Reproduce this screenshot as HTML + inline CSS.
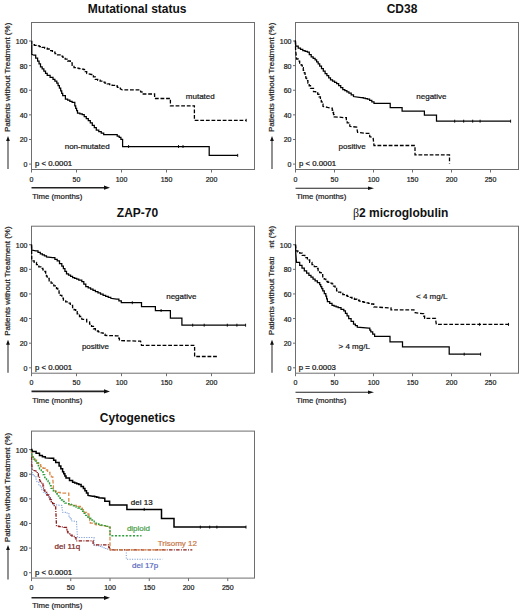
<!DOCTYPE html><html><head><meta charset="utf-8"><title>Figure</title><style>html,body{margin:0;padding:0;background:#fff;}svg{display:block;}text{font-family:"Liberation Sans", sans-serif;}</style></head><body>
<svg width="520" height="611" viewBox="0 0 520 611">
<rect width="520" height="611" fill="#fff"/>
<rect x="31.5" y="22.5" width="223" height="147" fill="none" stroke="#6e6e6e" stroke-width="1"/>
<line x1="29" y1="164.1" x2="31.5" y2="164.1" stroke="#6e6e6e" stroke-width="1"/>
<text x="27.5" y="167.1" font-size="7.0" text-anchor="end" fill="#222" font-weight="normal" stroke="#222" stroke-width="0.22" >0</text>
<line x1="29" y1="139.48" x2="31.5" y2="139.48" stroke="#6e6e6e" stroke-width="1"/>
<text x="27.5" y="142.48" font-size="7.0" text-anchor="end" fill="#222" font-weight="normal" stroke="#222" stroke-width="0.22" >20</text>
<line x1="29" y1="114.86" x2="31.5" y2="114.86" stroke="#6e6e6e" stroke-width="1"/>
<text x="27.5" y="117.86" font-size="7.0" text-anchor="end" fill="#222" font-weight="normal" stroke="#222" stroke-width="0.22" >40</text>
<line x1="29" y1="90.24" x2="31.5" y2="90.24" stroke="#6e6e6e" stroke-width="1"/>
<text x="27.5" y="93.24" font-size="7.0" text-anchor="end" fill="#222" font-weight="normal" stroke="#222" stroke-width="0.22" >60</text>
<line x1="29" y1="65.62" x2="31.5" y2="65.62" stroke="#6e6e6e" stroke-width="1"/>
<text x="27.5" y="68.62" font-size="7.0" text-anchor="end" fill="#222" font-weight="normal" stroke="#222" stroke-width="0.22" >80</text>
<line x1="29" y1="41" x2="31.5" y2="41" stroke="#6e6e6e" stroke-width="1"/>
<text x="27.5" y="44" font-size="7.0" text-anchor="end" fill="#222" font-weight="normal" stroke="#222" stroke-width="0.22" >100</text>
<line x1="31.5" y1="169.5" x2="31.5" y2="172.5" stroke="#6e6e6e" stroke-width="1"/>
<text x="31.5" y="181.5" font-size="7.0" text-anchor="middle" fill="#222" font-weight="normal" stroke="#222" stroke-width="0.22" >0</text>
<line x1="76.5" y1="169.5" x2="76.5" y2="172.5" stroke="#6e6e6e" stroke-width="1"/>
<text x="76.5" y="181.5" font-size="7.0" text-anchor="middle" fill="#222" font-weight="normal" stroke="#222" stroke-width="0.22" >50</text>
<line x1="121.5" y1="169.5" x2="121.5" y2="172.5" stroke="#6e6e6e" stroke-width="1"/>
<text x="121.5" y="181.5" font-size="7.0" text-anchor="middle" fill="#222" font-weight="normal" stroke="#222" stroke-width="0.22" >100</text>
<line x1="166.5" y1="169.5" x2="166.5" y2="172.5" stroke="#6e6e6e" stroke-width="1"/>
<text x="166.5" y="181.5" font-size="7.0" text-anchor="middle" fill="#222" font-weight="normal" stroke="#222" stroke-width="0.22" >150</text>
<line x1="211.5" y1="169.5" x2="211.5" y2="172.5" stroke="#6e6e6e" stroke-width="1"/>
<text x="211.5" y="181.5" font-size="7.0" text-anchor="middle" fill="#222" font-weight="normal" stroke="#222" stroke-width="0.22" >200</text>
<text x="137.2" y="13" font-size="12.0" text-anchor="middle" fill="#111" font-weight="bold" >Mutational status</text>
<text x="0" y="0" font-size="8.0" text-anchor="middle" fill="#222" stroke="#222" stroke-width="0.22" transform="translate(10.3,77.4) rotate(-90)">Patients without Treatment (%)</text>
<line x1="8" y1="169" x2="8" y2="140" stroke="#555" stroke-width="1.3"/>
<path d="M6.1,141 L8,136 L9.9,141 Z" fill="#111"/>
<line x1="31.5" y1="187.7" x2="105" y2="187.7" stroke="#222" stroke-width="1.6"/>
<path d="M104,185.6 L110,187.7 L104,189.8 Z" fill="#111"/>
<text x="32.3" y="199" font-size="7.8" text-anchor="start" fill="#222" font-weight="normal" stroke="#222" stroke-width="0.22" >Time (months)</text>
<text x="35" y="166.2" font-size="7.8" text-anchor="start" fill="#111" font-weight="normal" stroke="#111" stroke-width="0.22" >p &lt; 0.0001</text>
<polyline points="31.8,40.8 31.8,44.7 34.37,44.7 34.37,45.33 36.93,45.33 36.93,45.97 39.5,45.97 39.5,46.6 42.07,46.6 42.07,47.4 44.63,47.4 44.63,48.2 47.2,48.2 47.2,49 49.8,49 49.8,50.57 52.4,50.57 52.4,52.13 55,52.13 55,53.7 57.53,53.7 57.53,54.87 60.07,54.87 60.07,56.03 62.6,56.03 62.6,57.2 65.17,57.2 65.17,59.1 67.73,59.1 67.73,61 70.3,61 70.3,62.9 72.15,62.9 72.15,65.3 74,65.3 74,67.7 76.45,67.7 76.45,68.17 78.9,68.17 78.9,68.65 81.35,68.65 81.35,69.12 83.8,69.12 83.8,69.6 85.25,69.6 85.25,71.55 86.7,71.55 86.7,73.5 91.5,74.5 93.4,74.5 93.4,76.9 95.3,76.9 95.3,79.3 97.7,79.3 97.7,80.25 100.1,80.25 100.1,81.2 102.5,81.2 102.5,82.15 104.9,82.15 104.9,83.1 107.3,83.1 107.3,83.82 109.7,83.82 109.7,84.55 112.1,84.55 112.1,85.28 114.5,85.28 114.5,86 117.4,86 117.4,87.45 120.3,87.45 120.3,88.9 122.2,89.8 139.2,89.8 140.6,89.8 140.6,91.9 142,91.9 142,94 154.6,94 154.6,98.5 170.4,98.5 170.4,105.8 194.4,105.8 194.4,120.3 246.2,120.3" fill="none" stroke="#000" stroke-width="1.3" stroke-dasharray="3.8 1.8" stroke-linejoin="miter" stroke-linecap="butt" />
<polyline points="31.8,44.7 31.8,54.3 33.8,55.2 35.7,55.2 35.7,58.1 37.6,58.1 37.6,61 39.05,61 39.05,63.9 40.5,63.9 40.5,66.8 42.17,66.8 42.17,68.95 43.85,68.95 43.85,71.1 45.53,71.1 45.53,73.25 47.2,73.25 47.2,75.4 50.1,75.4 50.1,77.35 53,77.35 53,79.3 54.9,79.3 54.9,81.2 56.8,81.2 56.8,83.1 58.1,83.1 58.1,85.67 59.4,85.67 59.4,88.23 60.7,88.23 60.7,90.8 61.7,90.8 61.7,93.25 62.7,93.25 62.7,95.7 65.4,95.7 65.4,99 67.63,99 67.63,100.13 69.87,100.13 69.87,101.27 72.1,101.27 72.1,102.4 74.8,102.4 74.8,105.8 75.7,105.8 75.7,108.27 76.6,108.27 76.6,110.73 77.5,110.73 77.5,113.2 79.85,113.2 79.85,113.85 82.2,113.85 82.2,114.5 84.23,114.5 84.23,116.53 86.27,116.53 86.27,118.57 88.3,118.57 88.3,120.6 90.3,120.6 90.3,122.95 92.3,122.95 92.3,125.3 94.3,125.3 94.3,127.65 96.3,127.65 96.3,130 98.77,130 98.77,131.57 101.23,131.57 101.23,133.13 103.7,133.13 103.7,134.7 115.2,134.7 117.2,134.7 117.2,136.05 119.2,136.05 119.2,137.4 120.9,137.4 120.9,139.4 122.6,139.4 122.6,141.4 122.6,146.5 209.2,146.5 209.2,155.4 237.7,155.4" fill="none" stroke="#000" stroke-width="1.25" stroke-linejoin="miter" stroke-linecap="butt" />
<line x1="128.6" y1="145" x2="128.6" y2="148" stroke="#000" stroke-width="0.9"/>
<line x1="178.5" y1="145" x2="178.5" y2="148" stroke="#000" stroke-width="0.9"/>
<line x1="183" y1="145" x2="183" y2="148" stroke="#000" stroke-width="0.9"/>
<line x1="237.7" y1="153.9" x2="237.7" y2="156.9" stroke="#000" stroke-width="0.9"/>
<line x1="246.2" y1="118.8" x2="246.2" y2="121.8" stroke="#000" stroke-width="0.9"/>
<text x="185.8" y="98.9" font-size="8.0" text-anchor="start" fill="#1a1a1a" font-weight="normal" stroke="#1a1a1a" stroke-width="0.22" >mutated</text>
<text x="64.7" y="148.6" font-size="8.0" text-anchor="start" fill="#1a1a1a" font-weight="normal" stroke="#1a1a1a" stroke-width="0.22" >non-mutated</text>
<rect x="295.5" y="22.5" width="223" height="147" fill="none" stroke="#6e6e6e" stroke-width="1"/>
<line x1="293" y1="164.1" x2="295.5" y2="164.1" stroke="#6e6e6e" stroke-width="1"/>
<text x="291.5" y="167.1" font-size="7.0" text-anchor="end" fill="#222" font-weight="normal" stroke="#222" stroke-width="0.22" >0</text>
<line x1="293" y1="139.48" x2="295.5" y2="139.48" stroke="#6e6e6e" stroke-width="1"/>
<text x="291.5" y="142.48" font-size="7.0" text-anchor="end" fill="#222" font-weight="normal" stroke="#222" stroke-width="0.22" >20</text>
<line x1="293" y1="114.86" x2="295.5" y2="114.86" stroke="#6e6e6e" stroke-width="1"/>
<text x="291.5" y="117.86" font-size="7.0" text-anchor="end" fill="#222" font-weight="normal" stroke="#222" stroke-width="0.22" >40</text>
<line x1="293" y1="90.24" x2="295.5" y2="90.24" stroke="#6e6e6e" stroke-width="1"/>
<text x="291.5" y="93.24" font-size="7.0" text-anchor="end" fill="#222" font-weight="normal" stroke="#222" stroke-width="0.22" >60</text>
<line x1="293" y1="65.62" x2="295.5" y2="65.62" stroke="#6e6e6e" stroke-width="1"/>
<text x="291.5" y="68.62" font-size="7.0" text-anchor="end" fill="#222" font-weight="normal" stroke="#222" stroke-width="0.22" >80</text>
<line x1="293" y1="41" x2="295.5" y2="41" stroke="#6e6e6e" stroke-width="1"/>
<text x="291.5" y="44" font-size="7.0" text-anchor="end" fill="#222" font-weight="normal" stroke="#222" stroke-width="0.22" >100</text>
<line x1="295.5" y1="169.5" x2="295.5" y2="172.5" stroke="#6e6e6e" stroke-width="1"/>
<text x="295.5" y="181.5" font-size="7.0" text-anchor="middle" fill="#222" font-weight="normal" stroke="#222" stroke-width="0.22" >0</text>
<line x1="334.5" y1="169.5" x2="334.5" y2="172.5" stroke="#6e6e6e" stroke-width="1"/>
<text x="334.5" y="181.5" font-size="7.0" text-anchor="middle" fill="#222" font-weight="normal" stroke="#222" stroke-width="0.22" >50</text>
<line x1="373.5" y1="169.5" x2="373.5" y2="172.5" stroke="#6e6e6e" stroke-width="1"/>
<text x="373.5" y="181.5" font-size="7.0" text-anchor="middle" fill="#222" font-weight="normal" stroke="#222" stroke-width="0.22" >100</text>
<line x1="412.5" y1="169.5" x2="412.5" y2="172.5" stroke="#6e6e6e" stroke-width="1"/>
<text x="412.5" y="181.5" font-size="7.0" text-anchor="middle" fill="#222" font-weight="normal" stroke="#222" stroke-width="0.22" >150</text>
<line x1="451.5" y1="169.5" x2="451.5" y2="172.5" stroke="#6e6e6e" stroke-width="1"/>
<text x="451.5" y="181.5" font-size="7.0" text-anchor="middle" fill="#222" font-weight="normal" stroke="#222" stroke-width="0.22" >200</text>
<line x1="490.5" y1="169.5" x2="490.5" y2="172.5" stroke="#6e6e6e" stroke-width="1"/>
<text x="490.5" y="181.5" font-size="7.0" text-anchor="middle" fill="#222" font-weight="normal" stroke="#222" stroke-width="0.22" >250</text>
<text x="402" y="13" font-size="12.0" text-anchor="middle" fill="#111" font-weight="bold" >CD38</text>
<text x="0" y="0" font-size="8.0" text-anchor="middle" fill="#222" stroke="#222" stroke-width="0.22" transform="translate(274.3,77.4) rotate(-90)">Patients without Treatment (%)</text>
<line x1="272" y1="169" x2="272" y2="140" stroke="#555" stroke-width="1.3"/>
<path d="M270.1,141 L272,136 L273.9,141 Z" fill="#111"/>
<line x1="295.5" y1="188.3" x2="369" y2="188.3" stroke="#222" stroke-width="1.1"/>
<path d="M368,186.6 L374,188.3 L368,190 Z" fill="#111"/>
<text x="296.3" y="199" font-size="7.8" text-anchor="start" fill="#222" font-weight="normal" stroke="#222" stroke-width="0.22" >Time (months)</text>
<text x="299" y="166.2" font-size="7.8" text-anchor="start" fill="#111" font-weight="normal" stroke="#111" stroke-width="0.22" >p &lt; 0.0001</text>
<polyline points="295.4,40.6 295.8,46 298.2,46 298.2,48 300.5,48 300.5,49.3 302.8,49.3 302.8,50.6 305.1,50.6 305.1,51.4 307.4,51.4 307.4,52.2 309.3,52.2 309.3,54.5 311.2,54.5 311.2,56.8 313.15,56.8 313.15,58.3 315.1,58.3 315.1,59.8 316.63,59.8 316.63,61.87 318.17,61.87 318.17,63.93 319.7,63.93 319.7,66 321.5,66 321.5,68.57 323.3,68.57 323.3,71.13 325.1,71.13 325.1,73.7 326.9,73.7 326.9,75.73 328.7,75.73 328.7,77.77 330.5,77.77 330.5,79.8 332.53,79.8 332.53,81.1 334.57,81.1 334.57,82.4 336.6,82.4 336.6,83.7 338.67,83.7 338.67,85.63 340.73,85.63 340.73,87.57 342.8,87.57 342.8,89.5 344.83,89.5 344.83,90.67 346.87,90.67 346.87,91.83 348.9,91.83 348.9,93 351.2,93 351.2,94.75 353.5,94.75 353.5,96.5 361.2,97.5 363.27,97.5 363.27,98 365.33,98 365.33,98.5 367.4,98.5 367.4,99 369.6,99 369.6,100.47 371.8,100.47 371.8,101.93 374,101.93 374,103.4 390.2,103.4 390.2,107.7 402.1,107.7 402.1,111 424.4,111 424.4,115 436.5,115 436.5,121.2 510.6,121.2" fill="none" stroke="#000" stroke-width="1.25" stroke-linejoin="miter" stroke-linecap="butt" />
<polyline points="295.4,40.6 295.6,49.8 296.6,59 298.13,59 298.13,61.07 299.67,61.07 299.67,63.13 301.2,63.13 301.2,65.2 302.23,65.2 302.23,67.77 303.27,67.77 303.27,70.33 304.3,70.33 304.3,72.9 305.07,72.9 305.07,75.47 305.83,75.47 305.83,78.03 306.6,78.03 306.6,80.6 307.9,80.6 307.9,83.17 309.2,83.17 309.2,85.73 310.5,85.73 310.5,88.3 313.5,88.3 313.5,91.7 315.65,91.7 315.65,93 317.8,93 317.8,94.3 319.1,94.3 319.1,96.9 320.4,96.9 320.4,99.5 321.27,99.5 321.27,101.8 322.13,101.8 322.13,104.1 323,104.1 323,106.4 327.3,107.3 331.6,108.2 332.25,108.2 332.25,110.35 332.9,110.35 332.9,112.5 333.55,112.5 333.55,114.65 334.2,114.65 334.2,116.8 345.5,117.7 346.35,117.7 346.35,120.3 347.2,120.3 347.2,122.9 349.8,122.9 349.8,126.3 356.7,127.2 357.6,132.4 366.2,133.3 369.7,133.3 369.7,136.7 373.1,137.6 374,145.5 415,145.5 415,154.9 449.5,154.9 449.5,163.5" fill="none" stroke="#000" stroke-width="1.3" stroke-dasharray="3.8 1.8" stroke-linejoin="miter" stroke-linecap="butt" />
<line x1="454.7" y1="119.7" x2="454.7" y2="122.7" stroke="#000" stroke-width="0.9"/>
<line x1="463.7" y1="119.7" x2="463.7" y2="122.7" stroke="#000" stroke-width="0.9"/>
<line x1="472.7" y1="119.7" x2="472.7" y2="122.7" stroke="#000" stroke-width="0.9"/>
<line x1="480.1" y1="119.7" x2="480.1" y2="122.7" stroke="#000" stroke-width="0.9"/>
<line x1="510.6" y1="119.7" x2="510.6" y2="122.7" stroke="#000" stroke-width="0.9"/>
<text x="416.3" y="98.8" font-size="8.0" text-anchor="start" fill="#1a1a1a" font-weight="normal" stroke="#1a1a1a" stroke-width="0.22" >negative</text>
<text x="338.5" y="148.8" font-size="8.0" text-anchor="start" fill="#1a1a1a" font-weight="normal" stroke="#1a1a1a" stroke-width="0.22" >positive</text>
<rect x="31.5" y="226.2" width="223" height="147" fill="none" stroke="#6e6e6e" stroke-width="1"/>
<line x1="29" y1="367.8" x2="31.5" y2="367.8" stroke="#6e6e6e" stroke-width="1"/>
<text x="27.5" y="370.8" font-size="7.0" text-anchor="end" fill="#222" font-weight="normal" stroke="#222" stroke-width="0.22" >0</text>
<line x1="29" y1="343.18" x2="31.5" y2="343.18" stroke="#6e6e6e" stroke-width="1"/>
<text x="27.5" y="346.18" font-size="7.0" text-anchor="end" fill="#222" font-weight="normal" stroke="#222" stroke-width="0.22" >20</text>
<line x1="29" y1="318.56" x2="31.5" y2="318.56" stroke="#6e6e6e" stroke-width="1"/>
<text x="27.5" y="321.56" font-size="7.0" text-anchor="end" fill="#222" font-weight="normal" stroke="#222" stroke-width="0.22" >40</text>
<line x1="29" y1="293.94" x2="31.5" y2="293.94" stroke="#6e6e6e" stroke-width="1"/>
<text x="27.5" y="296.94" font-size="7.0" text-anchor="end" fill="#222" font-weight="normal" stroke="#222" stroke-width="0.22" >60</text>
<line x1="29" y1="269.32" x2="31.5" y2="269.32" stroke="#6e6e6e" stroke-width="1"/>
<text x="27.5" y="272.32" font-size="7.0" text-anchor="end" fill="#222" font-weight="normal" stroke="#222" stroke-width="0.22" >80</text>
<line x1="29" y1="244.7" x2="31.5" y2="244.7" stroke="#6e6e6e" stroke-width="1"/>
<text x="27.5" y="247.7" font-size="7.0" text-anchor="end" fill="#222" font-weight="normal" stroke="#222" stroke-width="0.22" >100</text>
<line x1="31.5" y1="373.2" x2="31.5" y2="376.2" stroke="#6e6e6e" stroke-width="1"/>
<text x="31.5" y="385.2" font-size="7.0" text-anchor="middle" fill="#222" font-weight="normal" stroke="#222" stroke-width="0.22" >0</text>
<line x1="76.5" y1="373.2" x2="76.5" y2="376.2" stroke="#6e6e6e" stroke-width="1"/>
<text x="76.5" y="385.2" font-size="7.0" text-anchor="middle" fill="#222" font-weight="normal" stroke="#222" stroke-width="0.22" >50</text>
<line x1="121.5" y1="373.2" x2="121.5" y2="376.2" stroke="#6e6e6e" stroke-width="1"/>
<text x="121.5" y="385.2" font-size="7.0" text-anchor="middle" fill="#222" font-weight="normal" stroke="#222" stroke-width="0.22" >100</text>
<line x1="166.5" y1="373.2" x2="166.5" y2="376.2" stroke="#6e6e6e" stroke-width="1"/>
<text x="166.5" y="385.2" font-size="7.0" text-anchor="middle" fill="#222" font-weight="normal" stroke="#222" stroke-width="0.22" >150</text>
<line x1="211.5" y1="373.2" x2="211.5" y2="376.2" stroke="#6e6e6e" stroke-width="1"/>
<text x="211.5" y="385.2" font-size="7.0" text-anchor="middle" fill="#222" font-weight="normal" stroke="#222" stroke-width="0.22" >200</text>
<text x="137.5" y="216.7" font-size="12.0" text-anchor="middle" fill="#111" font-weight="bold" >ZAP-70</text>
<text x="0" y="0" font-size="8.0" text-anchor="middle" fill="#222" stroke="#222" stroke-width="0.22" transform="translate(10.3,281.1) rotate(-90)">Patients without Treatment (%)</text>
<line x1="8" y1="372.7" x2="8" y2="343.7" stroke="#555" stroke-width="1.3"/>
<path d="M6.1,344.7 L8,339.7 L9.9,344.7 Z" fill="#111"/>
<line x1="31.5" y1="391.4" x2="105" y2="391.4" stroke="#222" stroke-width="1.6"/>
<path d="M104,389.3 L110,391.4 L104,393.5 Z" fill="#111"/>
<text x="32.3" y="402.7" font-size="7.8" text-anchor="start" fill="#222" font-weight="normal" stroke="#222" stroke-width="0.22" >Time (months)</text>
<text x="35" y="369.9" font-size="7.8" text-anchor="start" fill="#111" font-weight="normal" stroke="#111" stroke-width="0.22" >p &lt; 0.0001</text>
<polyline points="31.5,244.6 31.8,250 35.7,250.8 38,250.8 38,252.3 40.3,252.3 40.3,253.8 42.37,253.8 42.37,254.83 44.43,254.83 44.43,255.87 46.5,255.87 46.5,256.9 52.6,257.7 54.9,257.7 54.9,259.25 57.2,259.25 57.2,260.8 59.5,260.8 59.5,263.5 61.8,263.5 61.8,266.2 63.37,266.2 63.37,268.73 64.93,268.73 64.93,271.27 66.5,271.27 66.5,273.8 68.53,273.8 68.53,275.1 70.57,275.1 70.57,276.4 72.6,276.4 72.6,277.7 74.67,277.7 74.67,278.47 76.73,278.47 76.73,279.23 78.8,279.23 78.8,280 81.8,280 81.8,281.5 83.8,281.5 83.8,284.1 85.8,284.1 85.8,286.7 88.2,286.7 88.2,287.9 90.6,287.9 90.6,289.1 93,289.1 93,290.3 95.4,290.3 95.4,291.5 97.97,291.5 97.97,292.8 100.53,292.8 100.53,294.1 103.1,294.1 103.1,295.4 105.67,295.4 105.67,296.37 108.23,296.37 108.23,297.33 110.8,297.33 110.8,298.3 116.5,299.2 118.9,299.2 118.9,300.95 121.3,300.95 121.3,302.7 141.5,302.7 141.5,306.7 155.4,306.7 155.4,310.5 170.4,310.5 170.4,318.1 181.9,318.1 181.9,325.2 245.6,325.2" fill="none" stroke="#000" stroke-width="1.25" stroke-linejoin="miter" stroke-linecap="butt" />
<polyline points="31.5,244.6 31.8,260.8 34.2,260.8 34.2,262.3 36.5,262.3 36.5,264.6 38.8,264.6 38.8,266.9 40.83,266.9 40.83,268.43 42.87,268.43 42.87,269.97 44.9,269.97 44.9,271.5 45.67,271.5 45.67,273.83 46.43,273.83 46.43,276.17 47.2,276.17 47.2,278.5 49.15,278.5 49.15,280.8 51.1,280.8 51.1,283.1 53.8,283.1 53.8,285.8 56.5,285.8 56.5,288.5 57.77,288.5 57.77,290.8 59.03,290.8 59.03,293.1 60.3,293.1 60.3,295.4 61.85,295.4 61.85,298.1 63.4,298.1 63.4,300.8 65.7,300.8 65.7,301.95 68,301.95 68,303.1 70.3,303.1 70.3,305.4 72.6,305.4 72.6,307.7 74.13,307.7 74.13,309.73 75.67,309.73 75.67,311.77 77.2,311.77 77.2,313.8 79.5,313.8 79.5,316.5 81.8,316.5 81.8,319.2 83.8,319.4 86.7,319.4 86.7,321.8 89.6,321.8 89.6,324.2 91.53,324.2 91.53,326.47 93.47,326.47 93.47,328.73 95.4,328.73 95.4,331 98.3,331 98.3,331.95 101.2,331.95 101.2,332.9 103.1,332.9 103.1,334.15 105,334.15 105,335.4 116.5,335.8 117.95,335.8 117.95,338.2 119.4,338.2 119.4,340.6 140.6,341.2 141.5,345.4 194.6,345.4 194.6,356.5 217.3,356.5" fill="none" stroke="#000" stroke-width="1.3" stroke-dasharray="3.8 1.8" stroke-linejoin="miter" stroke-linecap="butt" />
<line x1="132.3" y1="301.2" x2="132.3" y2="304.2" stroke="#000" stroke-width="0.9"/>
<line x1="161.1" y1="309" x2="161.1" y2="312" stroke="#000" stroke-width="0.9"/>
<line x1="192.7" y1="323.7" x2="192.7" y2="326.7" stroke="#000" stroke-width="0.9"/>
<line x1="204.2" y1="323.7" x2="204.2" y2="326.7" stroke="#000" stroke-width="0.9"/>
<line x1="227.3" y1="323.7" x2="227.3" y2="326.7" stroke="#000" stroke-width="0.9"/>
<line x1="236.9" y1="323.7" x2="236.9" y2="326.7" stroke="#000" stroke-width="0.9"/>
<line x1="245.6" y1="323.7" x2="245.6" y2="326.7" stroke="#000" stroke-width="0.9"/>
<text x="166.2" y="299.2" font-size="8.0" text-anchor="start" fill="#1a1a1a" font-weight="normal" stroke="#1a1a1a" stroke-width="0.22" >negative</text>
<text x="81.9" y="348.8" font-size="8.0" text-anchor="start" fill="#1a1a1a" font-weight="normal" stroke="#1a1a1a" stroke-width="0.22" >positive</text>
<rect x="295.5" y="226.2" width="223" height="147" fill="none" stroke="#6e6e6e" stroke-width="1"/>
<line x1="293" y1="367.8" x2="295.5" y2="367.8" stroke="#6e6e6e" stroke-width="1"/>
<text x="291.5" y="370.8" font-size="7.0" text-anchor="end" fill="#222" font-weight="normal" stroke="#222" stroke-width="0.22" >0</text>
<line x1="293" y1="343.18" x2="295.5" y2="343.18" stroke="#6e6e6e" stroke-width="1"/>
<text x="291.5" y="346.18" font-size="7.0" text-anchor="end" fill="#222" font-weight="normal" stroke="#222" stroke-width="0.22" >20</text>
<line x1="293" y1="318.56" x2="295.5" y2="318.56" stroke="#6e6e6e" stroke-width="1"/>
<text x="291.5" y="321.56" font-size="7.0" text-anchor="end" fill="#222" font-weight="normal" stroke="#222" stroke-width="0.22" >40</text>
<line x1="293" y1="293.94" x2="295.5" y2="293.94" stroke="#6e6e6e" stroke-width="1"/>
<text x="291.5" y="296.94" font-size="7.0" text-anchor="end" fill="#222" font-weight="normal" stroke="#222" stroke-width="0.22" >60</text>
<line x1="293" y1="269.32" x2="295.5" y2="269.32" stroke="#6e6e6e" stroke-width="1"/>
<text x="291.5" y="272.32" font-size="7.0" text-anchor="end" fill="#222" font-weight="normal" stroke="#222" stroke-width="0.22" >80</text>
<line x1="293" y1="244.7" x2="295.5" y2="244.7" stroke="#6e6e6e" stroke-width="1"/>
<text x="291.5" y="247.7" font-size="7.0" text-anchor="end" fill="#222" font-weight="normal" stroke="#222" stroke-width="0.22" >100</text>
<line x1="295.5" y1="373.2" x2="295.5" y2="376.2" stroke="#6e6e6e" stroke-width="1"/>
<text x="295.5" y="385.2" font-size="7.0" text-anchor="middle" fill="#222" font-weight="normal" stroke="#222" stroke-width="0.22" >0</text>
<line x1="334.5" y1="373.2" x2="334.5" y2="376.2" stroke="#6e6e6e" stroke-width="1"/>
<text x="334.5" y="385.2" font-size="7.0" text-anchor="middle" fill="#222" font-weight="normal" stroke="#222" stroke-width="0.22" >50</text>
<line x1="373.5" y1="373.2" x2="373.5" y2="376.2" stroke="#6e6e6e" stroke-width="1"/>
<text x="373.5" y="385.2" font-size="7.0" text-anchor="middle" fill="#222" font-weight="normal" stroke="#222" stroke-width="0.22" >100</text>
<line x1="412.5" y1="373.2" x2="412.5" y2="376.2" stroke="#6e6e6e" stroke-width="1"/>
<text x="412.5" y="385.2" font-size="7.0" text-anchor="middle" fill="#222" font-weight="normal" stroke="#222" stroke-width="0.22" >150</text>
<line x1="451.5" y1="373.2" x2="451.5" y2="376.2" stroke="#6e6e6e" stroke-width="1"/>
<text x="451.5" y="385.2" font-size="7.0" text-anchor="middle" fill="#222" font-weight="normal" stroke="#222" stroke-width="0.22" >200</text>
<line x1="490.5" y1="373.2" x2="490.5" y2="376.2" stroke="#6e6e6e" stroke-width="1"/>
<text x="490.5" y="385.2" font-size="7.0" text-anchor="middle" fill="#222" font-weight="normal" stroke="#222" stroke-width="0.22" >250</text>
<text x="400.7" y="216.7" font-size="12.0" text-anchor="middle" fill="#111" font-weight="bold" ><tspan style="font-family:&quot;Liberation Serif&quot;, serif" font-weight="normal">β</tspan>2 microglobulin</text>
<text x="0" y="0" font-size="8.0" text-anchor="middle" fill="#222" stroke="#222" stroke-width="0.22" transform="translate(274.3,280.5) rotate(-90)">Patients without Treatment (%)</text>
<rect x="266" y="248.2" width="11" height="8.6" fill="#fff"/>
<line x1="272" y1="372.7" x2="272" y2="343.7" stroke="#555" stroke-width="1.3"/>
<path d="M270.1,344.7 L272,339.7 L273.9,344.7 Z" fill="#111"/>
<line x1="295.5" y1="392.2" x2="369" y2="392.2" stroke="#222" stroke-width="1.1"/>
<path d="M368,390.5 L374,392.2 L368,393.9 Z" fill="#111"/>
<text x="296.3" y="402.7" font-size="7.8" text-anchor="start" fill="#222" font-weight="normal" stroke="#222" stroke-width="0.22" >Time (months)</text>
<text x="298.8" y="369.6" font-size="7.8" text-anchor="start" fill="#111" font-weight="normal" stroke="#111" stroke-width="0.22" >p = 0.0003</text>
<polyline points="295.5,244.6 296,250.8 297.85,250.8 297.85,251.95 299.7,251.95 299.7,253.1 302.27,253.1 302.27,255.4 304.83,255.4 304.83,257.7 307.4,257.7 307.4,260 309.7,260 309.7,262.3 312,262.3 312,264.6 314.3,264.6 314.3,266.55 316.6,266.55 316.6,268.5 318.13,268.5 318.13,270.53 319.67,270.53 319.67,272.57 321.2,272.57 321.2,274.6 322.73,274.6 322.73,276.9 324.27,276.9 324.27,279.2 325.8,279.2 325.8,281.5 327.87,281.5 327.87,282.27 329.93,282.27 329.93,283.03 332,283.03 332,283.8 333.53,283.8 333.53,286.13 335.07,286.13 335.07,288.47 336.6,288.47 336.6,290.8 338.67,290.8 338.67,292.07 340.73,292.07 340.73,293.33 342.8,293.33 342.8,294.6 345.07,294.6 345.07,295.5 347.33,295.5 347.33,296.4 349.6,296.4 349.6,297.3 352,297.3 352,298.27 354.4,298.27 354.4,299.25 356.8,299.25 356.8,300.23 359.2,300.23 359.2,301.2 361.52,301.2 361.52,301.76 363.84,301.76 363.84,302.32 366.16,302.32 366.16,302.88 368.48,302.88 368.48,303.44 370.8,303.44 370.8,304 373.7,304 373.7,306.9 389,307.9 391,307.9 391,309.8 414,309.8 415,312.7 422.7,313.7 423.65,313.7 423.65,316.05 424.6,316.05 424.6,318.4 435.5,318.4 436.3,324.4 510,324.4" fill="none" stroke="#000" stroke-width="1.3" stroke-dasharray="3.8 1.8" stroke-linejoin="miter" stroke-linecap="butt" />
<polyline points="295.5,244.6 295.8,253.8 296.5,262.3 299.7,262.3 299.7,265.4 302,265.4 302,268.1 304.3,268.1 304.3,270.8 306.6,270.8 306.6,273.1 308.9,273.1 308.9,275.4 310.97,275.4 310.97,277.2 313.03,277.2 313.03,279 315.1,279 315.1,280.8 317.4,280.8 317.4,282.7 319.7,282.7 319.7,284.6 320.73,284.6 320.73,286.67 321.77,286.67 321.77,288.73 322.8,288.73 322.8,290.8 324.3,290.8 324.3,293.5 325.8,293.5 325.8,296.2 326.6,296.2 326.6,298.85 327.4,298.85 327.4,301.5 329.7,301.5 329.7,303.45 332,303.45 332,305.4 334.07,305.4 334.07,306.17 336.13,306.17 336.13,306.93 338.2,306.93 338.2,307.7 341,307.7 341,309.25 343.8,309.25 343.8,310.8 345.43,310.8 345.43,313.37 347.07,313.37 347.07,315.93 348.7,315.93 348.7,318.5 351.1,318.5 351.1,321.35 353.5,321.35 353.5,324.2 355.4,324.2 355.4,325.65 357.3,325.65 357.3,327.1 368.8,328.1 369.8,328.1 369.8,330 370.8,330 370.8,331.9 372.7,331.9 372.7,334.1 374.6,334.1 374.6,336.3 390,336.3 390,341.9 402.5,341.9 402.5,346.8 449.2,346.8 449.2,354.2 480.6,354.2" fill="none" stroke="#000" stroke-width="1.25" stroke-linejoin="miter" stroke-linecap="butt" />
<line x1="479.6" y1="322.9" x2="479.6" y2="325.9" stroke="#000" stroke-width="0.9"/>
<line x1="508.5" y1="322.9" x2="508.5" y2="325.9" stroke="#000" stroke-width="0.9"/>
<line x1="464.2" y1="352.7" x2="464.2" y2="355.7" stroke="#000" stroke-width="0.9"/>
<line x1="480.6" y1="352.7" x2="480.6" y2="355.7" stroke="#000" stroke-width="0.9"/>
<text x="416" y="299.2" font-size="8.0" text-anchor="start" fill="#1a1a1a" font-weight="normal" stroke="#1a1a1a" stroke-width="0.22" >&lt; 4 mg/L</text>
<text x="338.5" y="348.6" font-size="8.0" text-anchor="start" fill="#1a1a1a" font-weight="normal" stroke="#1a1a1a" stroke-width="0.22" >&gt; 4 mg/L</text>
<rect x="31.5" y="431.1" width="223" height="147" fill="none" stroke="#6e6e6e" stroke-width="1"/>
<line x1="29" y1="572.7" x2="31.5" y2="572.7" stroke="#6e6e6e" stroke-width="1"/>
<text x="27.5" y="575.7" font-size="7.0" text-anchor="end" fill="#222" font-weight="normal" stroke="#222" stroke-width="0.22" >0</text>
<line x1="29" y1="548.08" x2="31.5" y2="548.08" stroke="#6e6e6e" stroke-width="1"/>
<text x="27.5" y="551.08" font-size="7.0" text-anchor="end" fill="#222" font-weight="normal" stroke="#222" stroke-width="0.22" >20</text>
<line x1="29" y1="523.46" x2="31.5" y2="523.46" stroke="#6e6e6e" stroke-width="1"/>
<text x="27.5" y="526.46" font-size="7.0" text-anchor="end" fill="#222" font-weight="normal" stroke="#222" stroke-width="0.22" >40</text>
<line x1="29" y1="498.84" x2="31.5" y2="498.84" stroke="#6e6e6e" stroke-width="1"/>
<text x="27.5" y="501.84" font-size="7.0" text-anchor="end" fill="#222" font-weight="normal" stroke="#222" stroke-width="0.22" >60</text>
<line x1="29" y1="474.22" x2="31.5" y2="474.22" stroke="#6e6e6e" stroke-width="1"/>
<text x="27.5" y="477.22" font-size="7.0" text-anchor="end" fill="#222" font-weight="normal" stroke="#222" stroke-width="0.22" >80</text>
<line x1="29" y1="449.6" x2="31.5" y2="449.6" stroke="#6e6e6e" stroke-width="1"/>
<text x="27.5" y="452.6" font-size="7.0" text-anchor="end" fill="#222" font-weight="normal" stroke="#222" stroke-width="0.22" >100</text>
<line x1="31.5" y1="578.1" x2="31.5" y2="581.1" stroke="#6e6e6e" stroke-width="1"/>
<text x="31.5" y="590.1" font-size="7.0" text-anchor="middle" fill="#222" font-weight="normal" stroke="#222" stroke-width="0.22" >0</text>
<line x1="70.75" y1="578.1" x2="70.75" y2="581.1" stroke="#6e6e6e" stroke-width="1"/>
<text x="70.75" y="590.1" font-size="7.0" text-anchor="middle" fill="#222" font-weight="normal" stroke="#222" stroke-width="0.22" >50</text>
<line x1="110" y1="578.1" x2="110" y2="581.1" stroke="#6e6e6e" stroke-width="1"/>
<text x="110" y="590.1" font-size="7.0" text-anchor="middle" fill="#222" font-weight="normal" stroke="#222" stroke-width="0.22" >100</text>
<line x1="149.25" y1="578.1" x2="149.25" y2="581.1" stroke="#6e6e6e" stroke-width="1"/>
<text x="149.25" y="590.1" font-size="7.0" text-anchor="middle" fill="#222" font-weight="normal" stroke="#222" stroke-width="0.22" >150</text>
<line x1="188.5" y1="578.1" x2="188.5" y2="581.1" stroke="#6e6e6e" stroke-width="1"/>
<text x="188.5" y="590.1" font-size="7.0" text-anchor="middle" fill="#222" font-weight="normal" stroke="#222" stroke-width="0.22" >200</text>
<line x1="227.75" y1="578.1" x2="227.75" y2="581.1" stroke="#6e6e6e" stroke-width="1"/>
<text x="227.75" y="590.1" font-size="7.0" text-anchor="middle" fill="#222" font-weight="normal" stroke="#222" stroke-width="0.22" >250</text>
<text x="137.5" y="421.6" font-size="12.0" text-anchor="middle" fill="#111" font-weight="bold" >Cytogenetics</text>
<text x="0" y="0" font-size="8.0" text-anchor="middle" fill="#222" stroke="#222" stroke-width="0.22" transform="translate(10.3,487.5) rotate(-90)">Patients without Treatment (%)</text>
<line x1="8" y1="579.6" x2="8" y2="549.1" stroke="#555" stroke-width="1.3"/>
<path d="M6.1,550.1 L8,545.1 L9.9,550.1 Z" fill="#111"/>
<line x1="31.5" y1="597.8" x2="105" y2="597.8" stroke="#222" stroke-width="1.6"/>
<path d="M104,595.7 L110,597.8 L104,599.9 Z" fill="#111"/>
<text x="32.3" y="608.1" font-size="7.8" text-anchor="start" fill="#222" font-weight="normal" stroke="#222" stroke-width="0.22" >Time (months)</text>
<text x="35" y="574.8" font-size="7.8" text-anchor="start" fill="#111" font-weight="normal" stroke="#111" stroke-width="0.22" >p &lt; 0.0001</text>
<polyline points="31.5,449.6 31.8,470 32.6,474.6 34.35,474.6 34.35,476.9 36.1,476.9 36.1,479.2 37.2,482.3 38.75,482.3 38.75,484.8 40.3,484.8 40.3,487.3 41.85,487.3 41.85,489.8 43.4,489.8 43.4,492.3 45.43,492.3 45.43,493.83 47.47,493.83 47.47,495.37 49.5,495.37 49.5,496.9 50.53,496.9 50.53,499.47 51.57,499.47 51.57,502.03 52.6,502.03 52.6,504.6 61.8,505.4 62.6,512.3 65.3,512.3 65.3,513.05 68,513.05 68,513.8 69.03,513.8 69.03,516.13 70.07,516.13 70.07,518.47 71.1,518.47 71.1,520.8 76.5,521.5 77.5,537.5 94,537.5 94,545 96.29,545 96.29,545.69 98.57,545.69 98.57,546.37 100.86,546.37 100.86,547.06 103.14,547.06 103.14,547.74 105.43,547.74 105.43,548.43 107.71,548.43 107.71,549.11 110,549.11 110,549.8 126.3,549.8 126.3,559.2 162.3,559.2" fill="none" stroke="#7f9fd8" stroke-width="1.1" stroke-dasharray="1.2 1.3" stroke-linejoin="miter" stroke-linecap="butt" />
<polyline points="31.5,449.6 31.8,465 32.6,470 36.1,471.1 37.23,471.1 37.23,473.8 38.37,473.8 38.37,476.5 39.5,476.5 39.5,479.2 40.3,481.5 41.65,481.5 41.65,483.8 43,483.8 43,486.1 43.63,486.1 43.63,488.17 44.27,488.17 44.27,490.23 44.9,490.23 44.9,492.3 46.85,492.3 46.85,495 48.8,495 48.8,497.7 49.95,497.7 49.95,499.6 51.1,499.6 51.1,501.5 52.63,501.5 52.63,503.57 54.17,503.57 54.17,505.63 55.7,505.63 55.7,507.7 56.5,526.2 59,526.2 59,526.58 61.5,526.58 61.5,526.95 64,526.95 64,527.33 66.5,527.33 66.5,527.7 67,527.7 67,529.73 67.5,529.73 67.5,531.77 68,531.77 68,533.8 70.07,533.8 70.07,535.1 72.13,535.1 72.13,536.4 74.2,536.4 74.2,537.7 76,537.7 76,540.8 93.1,540.8 93.1,544.8 108.1,544.8 108.8,544.8 108.8,547.3 109.5,547.3 109.5,549.8 192.3,549.8" fill="none" stroke="#8a1c1c" stroke-width="1.3" stroke-dasharray="3.5 1.3 1 1.3" stroke-linejoin="miter" stroke-linecap="butt" />
<polyline points="31.5,449.6 31.8,452 32.6,457.3 34.65,457.3 34.65,460.15 36.7,460.15 36.7,463 38.7,463 38.7,464.75 40.7,464.75 40.7,466.5 43,466.5 43,468.25 45.3,468.25 45.3,470 47.6,470 47.6,472.3 49.9,472.3 49.9,474.6 51.35,474.6 51.35,476.9 52.8,476.9 52.8,479.2 53.4,486 53.4,490.8 55.7,490.8 55.7,491.57 58,491.57 58,492.33 60.3,492.33 60.3,493.1 68.8,493.1 68.8,504.6 74.2,505.4 76.23,505.4 76.23,505.9 78.27,505.9 78.27,506.4 80.3,506.4 80.3,506.9 82.25,506.9 82.25,509.6 84.2,509.6 84.2,512.3 86.5,512.3 86.5,513.85 88.8,513.85 88.8,515.4 89.3,515.4 89.3,517.97 89.8,517.97 89.8,520.53 90.3,520.53 90.3,523.1 93,523.1 93,523.85 95.7,523.85 95.7,524.6 103.1,525.6 105.4,525.6 105.4,526.37 107.7,526.37 107.7,527.13 110,527.13 110,527.9 110,549.8 166,549.8" fill="none" stroke="#d98a48" stroke-width="1.3" stroke-dasharray="3.8 1.8" stroke-linejoin="miter" stroke-linecap="butt" />
<polyline points="31.5,449.6 32,455 32.9,455 32.9,457 33.8,457 33.8,459 35.5,459 35.5,461 37.2,461 37.2,463 38.35,463 38.35,465.9 39.5,465.9 39.5,468.8 41.25,468.8 41.25,471.7 43,471.7 43,474.6 44.75,474.6 44.75,477.5 46.5,477.5 46.5,480.4 48.03,480.4 48.03,483.07 49.57,483.07 49.57,485.73 51.1,485.73 51.1,488.4 53.4,488.4 53.4,491.1 55.7,491.1 55.7,493.8 57.23,493.8 57.23,495.87 58.77,495.87 58.77,497.93 60.3,497.93 60.3,500 62.6,500 62.6,501.55 64.9,501.55 64.9,503.1 66.97,503.1 66.97,503.6 69.03,503.6 69.03,504.1 71.1,504.1 71.1,504.6 73.4,504.6 73.4,505.75 75.7,505.75 75.7,506.9 78,506.9 78,508.05 80.3,508.05 80.3,509.2 81.83,509.2 81.83,511.27 83.37,511.27 83.37,513.33 84.9,513.33 84.9,515.4 86.97,515.4 86.97,516.93 89.03,516.93 89.03,518.47 91.1,518.47 91.1,520 94.2,520 94.2,523.1 96.42,523.1 96.42,523.73 98.65,523.73 98.65,524.35 100.88,524.35 100.88,524.98 103.1,524.98 103.1,525.6 105.4,525.6 105.4,526.37 107.7,526.37 107.7,527.13 110,527.13 110,527.9 110,535.8 141.5,535.8" fill="none" stroke="#2e9e3a" stroke-width="1.4" stroke-dasharray="2 1.6" stroke-linejoin="miter" stroke-linecap="butt" />
<polyline points="31.5,448.7 32.6,451.5 36.1,451.5 36.1,453.3 39.5,453.3 39.5,455.6 42.4,455.6 42.4,456.75 45.3,456.75 45.3,457.9 51.6,458.2 53.65,458.2 53.65,460.35 55.7,460.35 55.7,462.5 59.1,462.5 59.1,466 60.85,466 60.85,468.85 62.6,468.85 62.6,471.7 63.73,471.7 63.73,473.83 64.87,473.83 64.87,475.97 66,475.97 66,478.1 69.5,478.1 69.5,480.4 72.6,480.4 72.6,482.3 74.67,482.3 74.67,483.07 76.73,483.07 76.73,483.83 78.8,483.83 78.8,484.6 81.1,484.6 81.1,486.55 83.4,486.55 83.4,488.5 84.93,488.5 84.93,490.8 86.47,490.8 86.47,493.1 88,493.1 88,495.4 92.6,496.2 94.67,496.2 94.67,496.7 96.73,496.7 96.73,497.2 98.8,497.2 98.8,497.7 104.8,498.3 104.8,501.2 109.6,501.2 109.6,505 126.9,505 126.9,509.4 161.5,509.4 161.5,518.5 174,518.5 174,527.1 246,527.1" fill="none" stroke="#000" stroke-width="1.5" stroke-linejoin="miter" stroke-linecap="butt" />
<line x1="144.2" y1="507.9" x2="144.2" y2="510.9" stroke="#000" stroke-width="0.9"/>
<line x1="200.3" y1="525.6" x2="200.3" y2="528.6" stroke="#000" stroke-width="0.9"/>
<line x1="209.7" y1="525.6" x2="209.7" y2="528.6" stroke="#000" stroke-width="0.9"/>
<line x1="216.9" y1="525.6" x2="216.9" y2="528.6" stroke="#000" stroke-width="0.9"/>
<line x1="246" y1="525.6" x2="246" y2="528.6" stroke="#000" stroke-width="0.9"/>
<text x="130.8" y="505" font-size="8.0" text-anchor="start" fill="#111" font-weight="normal" stroke="#111" stroke-width="0.22" >del 13</text>
<text x="126.9" y="531.4" font-size="8.0" text-anchor="start" fill="#4aa04a" font-weight="normal" stroke="#4aa04a" stroke-width="0.22" >diploid</text>
<text x="157.7" y="546.4" font-size="8.0" text-anchor="start" fill="#c8784a" font-weight="normal" stroke="#c8784a" stroke-width="0.22" >Trisomy 12</text>
<text x="54.6" y="549.2" font-size="8.0" text-anchor="start" fill="#7a2424" font-weight="normal" stroke="#7a2424" stroke-width="0.22" >del 11q</text>
<text x="132" y="568" font-size="8.0" text-anchor="start" fill="#5a6cc0" font-weight="normal" stroke="#5a6cc0" stroke-width="0.22" >del 17p</text>
</svg></body></html>
